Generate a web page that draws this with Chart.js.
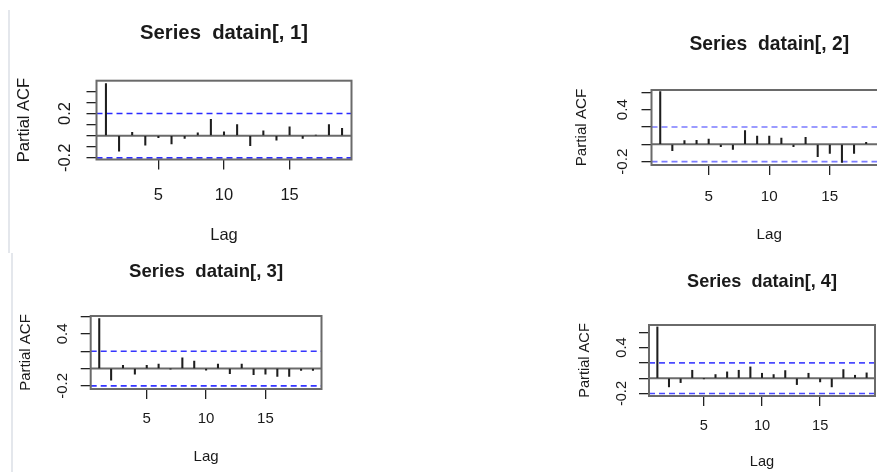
<!DOCTYPE html>
<html>
<head>
<meta charset="utf-8">
<script src="https://cdn.jsdelivr.net/npm/chart.js@4/dist/chart.umd.min.js"></script>
<style>
  html, body { margin: 0; padding: 0; background: #fff; overflow: hidden; }
  body { width: 877px; height: 472px; position: relative; }
  canvas { position: absolute; }
  .edge { position: absolute; width: 2px; background: #e4e7ec; }
</style>
</head>
<body>
<div class="edge" style="left:8px; top:10px; height:243px;"></div>
<div class="edge" style="left:11px; top:253px; height:219px;"></div>

<script>
// lags and partial autocorrelations
const lags = [1, 2, 3, 4, 5, 6, 7, 8, 9, 10, 11, 12, 13, 14, 15, 16, 17, 18, 19];
const pacf1 = [0.47, -0.14, 0.03, -0.085, -0.018, -0.074, -0.026, 0.026, 0.147, 0.035, 0.10, -0.09, 0.044, -0.04, 0.08, -0.026, 0.004, 0.10, 0.065];
const pacf2 = [0.61, -0.073, 0.042, 0.046, 0.062, -0.027, -0.06, 0.158, 0.096, 0.096, 0.073, -0.027, 0.08, -0.142, -0.104, -0.208, -0.104, 0.023, -0.02];
const pacf3 = [0.577, -0.135, 0.038, -0.065, 0.038, 0.05, -0.003, 0.123, 0.085, -0.02, 0.05, -0.058, 0.05, -0.07, -0.065, -0.092, -0.092, -0.023, -0.023];
const pacf4 = [0.67, -0.113, -0.057, 0.104, -0.004, 0.048, 0.083, 0.104, 0.148, 0.065, 0.048, 0.10, -0.083, 0.065, -0.048, -0.113, 0.113, 0.039, 0.07];

// confidence bound (dashed blue lines)
const ciLimit = 0.2;

// axis ranges and ticks
const xRange = [0.28, 19.72];
const xTicks = [5, 10, 15];
const yRange1 = [-0.215, 0.495];
const yRange2 = [-0.239, 0.628];
const yRange3 = [-0.236, 0.606];
const yRange4 = [-0.232, 0.695];
const yTicks1 = [-0.2, -0.1, 0, 0.1, 0.2, 0.3, 0.4];
const yTicks2 = [-0.2, 0, 0.2, 0.4, 0.6];
const yLabels1 = ['-0.2', '0.2'];
const yLabels2 = ['-0.2', '0.4'];

const titles = ['Series  datain[, 1]', 'Series  datain[, 2]', 'Series  datain[, 3]', 'Series  datain[, 4]'];

const FONT = "'Liberation Sans', Arial, sans-serif";
const TEXT = '#1a1a1a';

// draw the R style frame round the plot region
const boxPlugin = {
    id: 'box',
    afterDraw(chart) {
        const { ctx, chartArea: a } = chart;
        ctx.save();
        ctx.strokeStyle = '#6a6a6a';
        ctx.lineWidth = 2;
        ctx.strokeRect(a.left, a.top, a.right - a.left, a.bottom - a.top);
        ctx.restore();
    }
};

function halfWidth(text, size) {
    const c = document.createElement('canvas').getContext('2d');
    c.font = size + 'px ' + FONT;
    return c.measureText(text).width / 2;
}

// one ACF panel: canvas rect, plot box, text positions
function makePanel(p, values, yRange, yTicks, yLabels, title) {
    const canvas = document.createElement('canvas');
    canvas.width = p.cw;
    canvas.height = p.ch;
    canvas.style.left = p.cx + 'px';
    canvas.style.top = p.cy + 'px';
    document.body.appendChild(canvas);

    const lh = p.fs * 1.2;
    const tlh = p.tfs * 1.2;
    const yPad = p.yOff - halfWidth('-0.2', p.fs);

    const flat = (y) => [{ x: xRange[0], y: y }, { x: xRange[1], y: y }];

    new Chart(canvas, {
        type: 'bar',
        data: {
            datasets: [
                {
                    type: 'bar',
                    data: lags.map((x, i) => ({ x: x, y: values[i] })),
                    backgroundColor: '#1e1e1e',
                    barThickness: 1.4,
                    borderWidth: 0
                },
                { type: 'line', data: flat(0), borderColor: '#6a6a6a', borderWidth: 2, pointRadius: 0 },
                { type: 'line', data: flat(ciLimit), borderColor: p.ci, borderWidth: 1.6, borderDash: [6, 4], pointRadius: 0 },
                { type: 'line', data: flat(-ciLimit), borderColor: p.ci, borderWidth: 1.6, borderDash: [6, 4], pointRadius: 0 }
            ]
        },
        options: {
            responsive: false,
            animation: false,
            events: [],
            layout: { padding: { left: 0, top: 0, bottom: 0, right: p.cx + p.cw - p.r } },
            plugins: {
                legend: { display: false },
                tooltip: { enabled: false },
                title: {
                    display: true,
                    text: title,
                    fullSize: false,
                    color: TEXT,
                    font: { family: FONT, size: p.tfs, weight: 'bold', lineHeight: 1.2 },
                    padding: { top: p.titleY - p.cy - tlh / 2, bottom: p.t - p.titleY - tlh / 2 }
                }
            },
            scales: {
                x: {
                    type: 'linear',
                    min: xRange[0],
                    max: xRange[1],
                    offset: false,
                    afterBuildTicks: (axis) => { axis.ticks = xTicks.map(v => ({ value: v })); },
                    afterFit: (axis) => { axis.height = p.cy + p.ch - p.b; },
                    grid: { display: true, offset: false, drawOnChartArea: false, drawTicks: true, tickLength: 10, color: '#222', lineWidth: 1.3 },
                    border: { display: false },
                    ticks: {
                        autoSkip: false, maxRotation: 0, padding: p.xtp, color: TEXT,
                        font: { family: FONT, size: p.fs, lineHeight: 1.2 },
                        callback: (v) => String(v)
                    },
                    title: {
                        display: true, text: 'Lag', color: TEXT,
                        font: { family: FONT, size: p.fs, lineHeight: 1.2 },
                        padding: { top: 0, bottom: p.cy + p.ch - p.lagY - lh / 2 }
                    }
                },
                y: {
                    min: yRange[0],
                    max: yRange[1],
                    afterBuildTicks: (axis) => { axis.ticks = yTicks.map(v => ({ value: v })); },
                    afterFit: (axis) => { axis.width = p.l - p.cx; },
                    grid: { display: true, drawOnChartArea: false, drawTicks: true, tickLength: 10, color: '#222', lineWidth: 1.3 },
                    border: { display: false },
                    ticks: {
                        autoSkip: false, minRotation: 90, maxRotation: 90, crossAlign: 'center',
                        padding: yPad, color: TEXT,
                        font: { family: FONT, size: p.fs, lineHeight: 1.2 },
                        callback: (v) => {
                            const s = String(Math.round(v * 10) / 10);
                            return yLabels.includes(s) ? s : '';
                        }
                    },
                    title: {
                        display: true, text: 'Partial ACF', color: TEXT,
                        font: { family: FONT, size: p.fs, lineHeight: 1.2 },
                        padding: { top: p.yLabX - p.cx - lh / 2, bottom: 0 }
                    }
                }
            }
        },
        plugins: [boxPlugin]
    });
}

makePanel({ cx: 0, cy: 0, cw: 400, ch: 252, l: 96.5, r: 351.5, t: 80.7, b: 159.5,
    fs: 16.5, tfs: 20.3, titleY: 33.2, yLabX: 24, lagY: 235.5, xtp: 16, yOff: 20.7, ci: '#2b2bff' },
    pacf1, yRange1, yTicks1, yLabels1, titles[0]);

makePanel({ cx: 565, cy: 10, cw: 360, ch: 242, l: 651.5, r: 887, t: 90, b: 165,
    fs: 15.2, tfs: 19.3, titleY: 44.5, yLabX: 582, lagY: 234.7, xtp: 12.6, yOff: 19, ci: '#7b7bff' },
    pacf2, yRange2, yTicks2, yLabels2, titles[1]);

makePanel({ cx: 0, cy: 252, cw: 370, ch: 220, l: 90.7, r: 321.5, t: 316, b: 389,
    fs: 15, tfs: 18.6, titleY: 272.3, yLabX: 25.8, lagY: 456.7, xtp: 11.2, yOff: 18.2, ci: '#3535ff' },
    pacf3, yRange3, yTicks2, yLabels2, titles[2]);

makePanel({ cx: 565, cy: 252, cw: 360, ch: 220, l: 649, r: 875, t: 325, b: 396,
    fs: 14.6, tfs: 18.1, titleY: 281.7, yLabX: 585, lagY: 462, xtp: 11, yOff: 17.3, ci: '#4a4aff' },
    pacf4, yRange4, yTicks2, yLabels2, titles[3]);
</script>
</body>
</html>
